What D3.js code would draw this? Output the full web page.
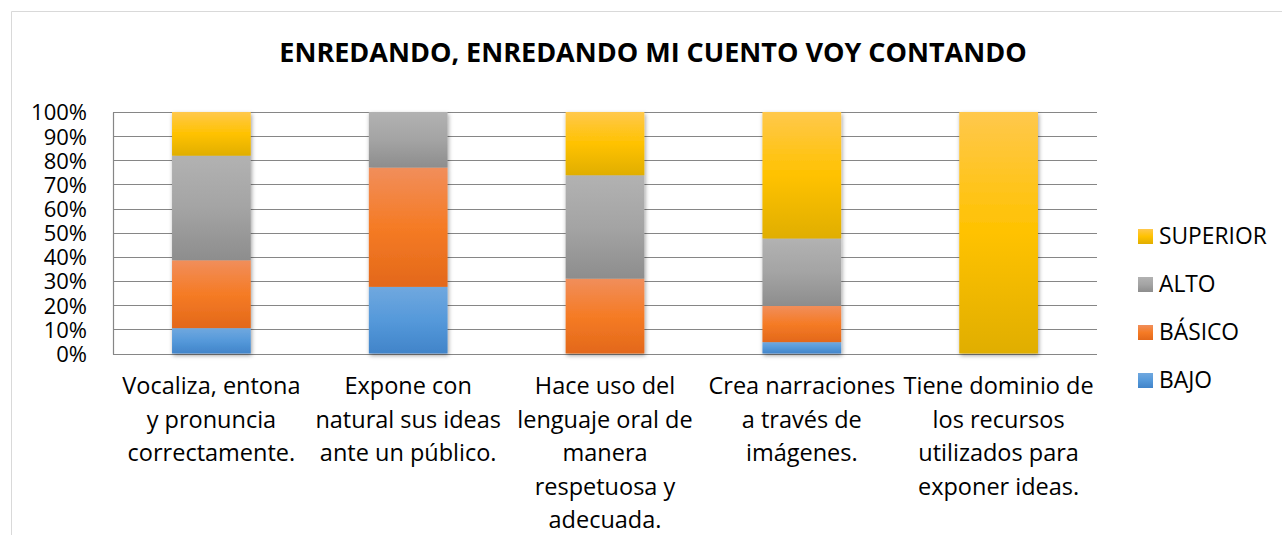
<!DOCTYPE html>
<html>
<head>
<meta charset="utf-8">
<script src="https://cdn.jsdelivr.net/npm/d3@7"></script>
<style>
  html, body { margin: 0; padding: 0; background: #fff; }
  svg { display: block; }
  text { font-family: "Open Sans", "Noto Sans", sans-serif; fill: #000; }
</style>
</head>
<body>
<svg id="chart" width="1282" height="535"></svg>
<script>
const title = "ENREDANDO, ENREDANDO MI CUENTO VOY CONTANDO";
const categories = [
  ["Vocaliza, entona", "y pronuncia", "correctamente."],
  ["Expone con", "natural sus ideas", "ante un público."],
  ["Hace uso del", "lenguaje oral de", "manera", "respetuosa y", "adecuada."],
  ["Crea narraciones", "a través de", "imágenes."],
  ["Tiene dominio de", "los recursos", "utilizados para", "exponer ideas."]
];
const seriesNames = ["BAJO", "BÁSICO", "ALTO", "SUPERIOR"];
const bajo     = [10.5, 27.6, 0,    4.7,  0];
const basico   = [28.1, 49.4, 31.0, 15.0, 0];
const alto     = [43.3, 23.0, 42.8, 27.9, 0];
const superior = [18.1, 0,    26.2, 52.4, 100];
const yTicks = [0, 10, 20, 30, 40, 50, 60, 70, 80, 90, 100];

const seriesValues = [bajo, basico, alto, superior];
const gradStops = {
  "BAJO":     ["#70a8df", "#5599da", "#4184c9"],
  "BÁSICO":   ["#f18e5b", "#f57b25", "#e3681a"],
  "ALTO":     ["#b2b2b2", "#a4a4a4", "#8d8d8d"],
  "SUPERIOR": ["#ffc84c", "#ffc200", "#e0ae00"]
};

const svg = d3.select("#chart");
const W = 1282, H = 535;
svg.append("rect").attr("width", W).attr("height", H).attr("fill", "#fff");

const defs = svg.append("defs");
seriesNames.forEach((s, i) => {
  const g = defs.append("linearGradient").attr("id", "grad" + i)
    .attr("x1", 0).attr("y1", 0).attr("x2", 0).attr("y2", 1);
  g.append("stop").attr("offset", "0%").attr("stop-color", gradStops[s][0]);
  g.append("stop").attr("offset", "50%").attr("stop-color", gradStops[s][1]);
  g.append("stop").attr("offset", "100%").attr("stop-color", gradStops[s][2]);
});
const f = defs.append("filter").attr("id", "shadow")
  .attr("x", "-20%").attr("y", "-5%").attr("width", "140%").attr("height", "115%");
f.append("feDropShadow").attr("dx", 1).attr("dy", 2).attr("stdDeviation", 2.2)
  .attr("flood-color", "#000").attr("flood-opacity", 0.38);

// chart border
svg.append("path").attr("d", `M11.5,${H} V11.5 H${W}`)
  .attr("fill", "none").attr("stroke", "#d9d9d9").attr("stroke-width", 1);

const plot = { left: 113, right: 1097, top: 112, bottom: 353.5 };

const x = d3.scaleBand().domain(d3.range(categories.length))
  .range([plot.left, plot.right]).paddingInner(0.6).paddingOuter(0.3);
const y = d3.scaleLinear().domain([0, 100]).range([plot.bottom, plot.top]);

// gridlines
svg.append("g").selectAll("line").data(yTicks).join("line")
  .attr("x1", plot.left).attr("x2", plot.right)
  .attr("y1", d => Math.round(y(d)) + 0.5).attr("y2", d => Math.round(y(d)) + 0.5)
  .attr("stroke", "#868686").attr("stroke-width", 1.2);
svg.append("line").attr("x1", plot.left + 0.5).attr("x2", plot.left + 0.5)
  .attr("y1", Math.round(y(100)) + 0.5).attr("y2", Math.round(y(0)) + 0.5)
  .attr("stroke", "#868686").attr("stroke-width", 1.2);

// y tick labels
const yAxis = d3.axisLeft(y).tickValues(yTicks).tickFormat(d => d + "%").tickSize(0).tickPadding(0);
const ya = svg.append("g").attr("transform", `translate(87,0)`).call(yAxis);
ya.select(".domain").remove();
ya.selectAll("text").attr("font-size", 22).attr("font-family", "Open Sans").attr("fill", "#000")
  .attr("dy", "0.36em");

// stacked data
const stackData = categories.map((c, i) => {
  const o = { i };
  seriesNames.forEach((s, k) => o[s] = seriesValues[k][i]);
  return o;
});
const stacked = d3.stack().keys(seriesNames)(stackData);

const barGroups = svg.append("g").selectAll("g").data(categories.map((c, i) => i)).join("g")
  .attr("filter", "url(#shadow)");
barGroups.each(function(ci) {
  const g = d3.select(this);
  stacked.forEach((layer, k) => {
    const d = layer[ci];
    if (d[1] - d[0] <= 0) return;
    g.append("rect")
      .attr("x", x(ci)).attr("width", x.bandwidth())
      .attr("y", y(d[1])).attr("height", y(d[0]) - y(d[1]))
      .attr("fill", `url(#grad${k})`);
  });
});

// x labels
const xl = svg.append("g");
categories.forEach((lines, i) => {
  const t = xl.append("text").attr("text-anchor", "middle").attr("font-size", 23.5)
    .attr("x", x(i) + x.bandwidth() / 2);
  lines.forEach((ln, j) => {
    t.append("tspan").attr("x", x(i) + x.bandwidth() / 2)
      .attr("y", 394 + j * 33.5).text(ln);
  });
});

// title
svg.append("text").attr("x", 653).attr("y", 62).attr("text-anchor", "middle")
  .attr("font-size", 27).attr("font-weight", "bold").text(title);

// legend (top to bottom: SUPERIOR, ALTO, BÁSICO, BAJO)
const legendOrder = seriesNames.map((s, k) => ({ s, k })).reverse();
const lg = svg.append("g");
legendOrder.forEach((d, j) => {
  const cy = 236 + j * 48;
  lg.append("rect").attr("x", 1138).attr("y", cy - 7).attr("width", 15).attr("height", 15)
    .attr("fill", `url(#grad${d.k})`);
  lg.append("text").attr("x", 1159).attr("y", cy).attr("dy", "0.36em")
    .attr("font-size", 22.8).text(d.s);
});
</script>
</body>
</html>
